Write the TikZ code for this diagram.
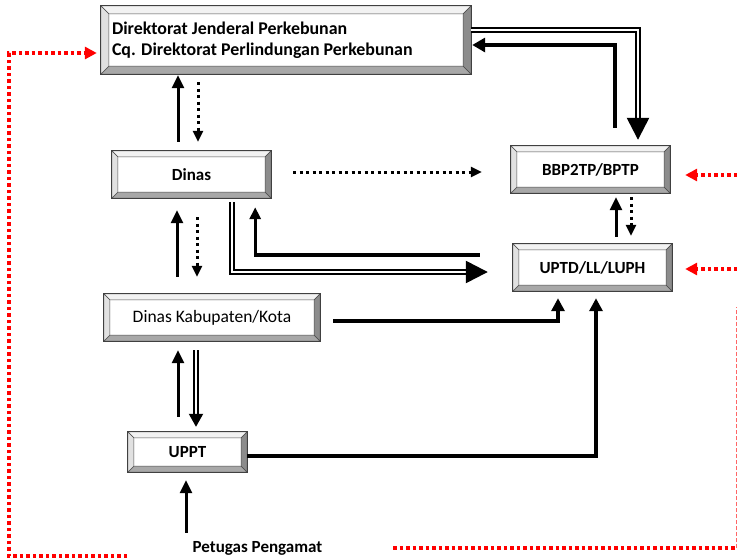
\documentclass[tikz,border=0pt]{standalone}
\usepackage{fontspec}
\setmainfont{Carlito}
\usetikzlibrary{arrows.meta,calc}
\definecolor{redd}{RGB}{255,0,0}
\definecolor{bvtop}{RGB}{242,242,242}
\definecolor{bvleft}{RGB}{225,225,225}
\definecolor{bvright}{RGB}{140,140,140}
\definecolor{bvbot}{RGB}{168,168,168}
\newcommand{\bevelbox}[2]{%
  \filldraw[bvedge,fill=bvtop] (#1.north west) -- (#1.north east) -- ([shift={(-#2pt,-#2pt)}]#1.north east) -- ([shift={(#2pt,-#2pt)}]#1.north west) -- cycle;
  \filldraw[bvedge,fill=bvbot] (#1.south west) -- (#1.south east) -- ([shift={(-#2pt,#2pt)}]#1.south east) -- ([shift={(#2pt,#2pt)}]#1.south west) -- cycle;
  \filldraw[bvedge,fill=bvleft] (#1.north west) -- (#1.south west) -- ([shift={(#2pt,#2pt)}]#1.south west) -- ([shift={(#2pt,-#2pt)}]#1.north west) -- cycle;
  \filldraw[bvedge,fill=bvright] (#1.north east) -- (#1.south east) -- ([shift={(-#2pt,#2pt)}]#1.south east) -- ([shift={(-#2pt,-#2pt)}]#1.north east) -- cycle;
  \draw[black!75,line width=0.7pt] (#1.north west) rectangle (#1.south east);
}
\begin{document}
\begin{tikzpicture}[x=1pt,y=-1pt,
  bx/.style={fill=white, inner sep=0pt},
  lbl/.style={font=\fontsize{17}{20}\selectfont\bfseries},
  bvedge/.style={draw=black!70, line width=0.5pt, line join=miter},
  sarrow/.style={line width=3pt, -{Triangle[length=13pt,width=12pt]}},
  darrow/.style={line width=3pt, dash pattern=on 3pt off 3.5pt, -{Triangle[length=11pt,width=10pt]}},
  dblarrow/.style={draw=black, double=white, double distance=1.5pt, line width=2.5pt, -{Triangle[length=22pt,width=22pt]}},
  dblsmall/.style={draw=black, double=white, double distance=1.4pt, line width=2pt, -{Triangle[length=13pt,width=14pt]}},
  rarrow/.style={draw=redd, line width=3.5pt, dash pattern=on 3.5pt off 3pt, -{Triangle[length=12pt,width=12pt]}},
  rline/.style={draw=redd, line width=3.5pt, dash pattern=on 3.5pt off 3pt}
]
\useasboundingbox (0,0) rectangle (737,560);
\fill[white] (0,0) rectangle (737,560);

% boxes
\node[bx, minimum width=370pt, minimum height=68pt] (dir) at (286,40) {};
\bevelbox{dir}{8}
\node[font=\fontsize{17.9}{20.5}\selectfont\bfseries, align=flush left, anchor=west, inner sep=0pt] at ([xshift=11pt]dir.west) {Direktorat Jenderal Perkebunan\\Cq. Direktorat Perlindungan Perkebunan};
\node[bx, minimum width=159pt, minimum height=47pt] (dinas) at (191.5,174.5) {};
\bevelbox{dinas}{6}
\node[lbl] at (dinas) {Dinas};
\node[bx, minimum width=159pt, minimum height=47pt] (bbp) at (590.5,169.5) {};
\bevelbox{bbp}{6}
\node[lbl] at (bbp) {BBP2TP/BPTP};
\node[bx, minimum width=159pt, minimum height=47pt] (uptd) at (592.5,267.5) {};
\bevelbox{uptd}{6}
\node[lbl] at (uptd) {UPTD/LL/LUPH};
\node[bx, minimum width=216pt, minimum height=47pt] (kab) at (212,317.5) {};
\bevelbox{kab}{6}
\node[font=\fontsize{17.5}{20}\selectfont] at (kab) {Dinas Kabupaten/Kota};
\node[bx, minimum width=119pt, minimum height=40pt] (uppt) at (187.5,452) {};
\bevelbox{uppt}{6}
\node[lbl] at (uppt) {UPPT};
\node[lbl, inner sep=0pt] (pet) at (257.5,548) {Petugas Pengamat};

% Direktorat <-> Dinas
\draw[sarrow, shorten <=9pt, shorten >=1pt] ([xshift=-13.5pt]dinas.north) -- ([xshift=-13.5pt]dinas.north |- dir.south);
\draw[darrow, shorten <=8pt, shorten >=9pt] ([xshift=6.5pt]dinas.north |- dir.south) -- ([xshift=6.5pt]dinas.north);

% Dinas <-> Kab
\draw[sarrow, shorten <=17pt, shorten >=12pt] ([xshift=-14.5pt]dinas.south |- kab.north) -- ([xshift=-14.5pt]dinas.south);
\draw[darrow, shorten <=19pt, shorten >=17pt] ([xshift=5.5pt]dinas.south) -- ([xshift=5.5pt]dinas.south |- kab.north);

% Dinas -> BBP dotted
\draw[darrow, shorten <=22pt, shorten >=29pt] ([yshift=2.5pt]dinas.east) -- ([yshift=2.5pt]dinas.east -| bbp.west);

% UPTD -> Dinas
\draw[line width=3.2pt, -{Triangle[length=12pt,width=11pt]}, shorten <=33pt, shorten >=9pt] ([yshift=12.5pt]uptd.west) -| ([xshift=-16pt]dinas.south east);

% Dinas -> UPTD double
\draw[dblarrow, shorten <=4pt, shorten >=25pt] ([xshift=-39pt]dinas.south east) |- ([yshift=-4.5pt]uptd.west);

% Direktorat -> BBP double
\draw[dblarrow, shorten >=6pt] ([yshift=10pt]dir.east) -| ([xshift=47.5pt]bbp.north);

% BBP -> Direktorat
\draw[line width=4pt, -{Triangle[length=13pt,width=14pt]}, shorten <=18pt, shorten >=1pt] ([xshift=24.5pt]bbp.north) |- ([yshift=-5pt]dir.east);

% BBP <-> UPTD
\draw[sarrow, shorten <=7pt, shorten >=4pt] ([xshift=25.5pt]bbp.south |- uptd.north) -- ([xshift=25.5pt]bbp.south);
\draw[darrow, shorten <=4pt, shorten >=8pt] ([xshift=40.5pt]bbp.south) -- ([xshift=40.5pt]bbp.south |- uptd.north);

% Kab -> UPTD
\draw[line width=3.5pt, -{Triangle[length=13pt,width=13pt]}, shorten <=13pt, shorten >=7pt] ([yshift=-3.5pt]kab.east) -| ([xshift=-34.5pt]uptd.south);

% UPPT -> UPTD
\draw[line width=3.5pt, -{Triangle[length=13pt,width=13pt]}, shorten >=7pt] ([yshift=-4pt]uppt.east) -| ([xshift=3.5pt]uptd.south);

% Kab <-> UPPT
\draw[sarrow, shorten <=15pt, shorten >=9pt] ([xshift=-34pt]kab.south |- uppt.north) -- ([xshift=-34pt]kab.south);
\draw[dblsmall, shorten <=9pt, shorten >=5pt] ([xshift=-16pt]kab.south) -- ([xshift=-16pt]kab.south |- uppt.north);

% Petugas -> UPPT
\draw[sarrow, shorten <=8pt, shorten >=8pt] ([xshift=-1.5pt]uppt.south |- pet.north) -- ([xshift=-1.5pt]uppt.south);

% red dotted
\coordinate (r1) at (737,175);
\coordinate (r2) at (737,269);
\draw[rarrow, shorten >=15pt] (r1) -- (r1 -| bbp.east);
\draw[rarrow, shorten >=13pt] (r2) -- (r2 -| uptd.east);
\coordinate (rb1) at (393,548);
\coordinate (rb2) at (736,548);
\coordinate (rb3) at (736,307);
\draw[rline] (rb1) -- (rb2);
\draw[redd!60, line width=0.8pt, dash pattern=on 4pt off 2pt] (rb2) -- (rb3);
\coordinate (lb1) at (127,556);
\coordinate (lb2) at (9,556);
\coordinate (lb3) at (9,53);
\draw[rarrow, shorten >=4pt] (lb1) -- (lb2) -- (lb3) -- (lb3 -| dir.west);
\end{tikzpicture}
\end{document}
